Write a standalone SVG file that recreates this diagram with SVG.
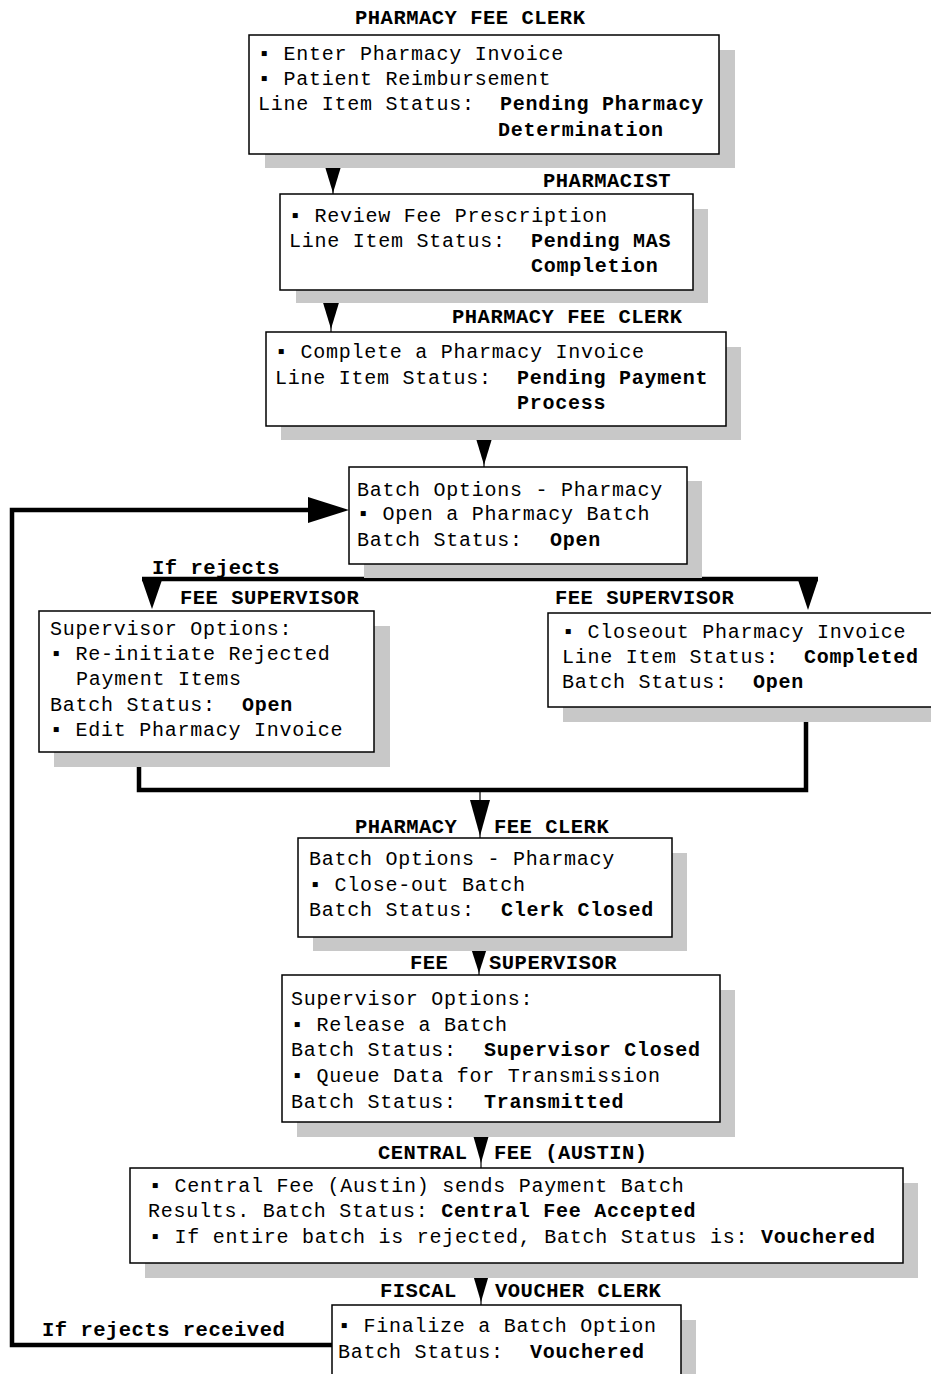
<svg xmlns="http://www.w3.org/2000/svg" width="931" height="1374" viewBox="0 0 931 1374">
<style>
.bg{fill:#ffffff}
.sh{fill:#c8c8c8}
.bx{fill:#ffffff;stroke:#000000;stroke-width:1.5}
.t{font-family:"Liberation Mono","DejaVu Sans Mono",monospace;font-size:20px;letter-spacing:0.75px;fill:#000000}
.b{font-weight:bold}
.ti{font-family:"Liberation Mono","DejaVu Sans Mono",monospace;font-size:20.5px;letter-spacing:0.5px;font-weight:bold;fill:#000000}
.thick{fill:none;stroke:#000000;stroke-width:4.5}
.thin{fill:none;stroke:#000000;stroke-width:1.2}
.ah{fill:#000000}
</style>
<rect class="bg" x="0" y="0" width="931" height="1374"/>

<g id="connectors">
  <line class="thin" x1="333" y1="154" x2="333" y2="194"/>
  <polygon class="ah" points="323,160 343,160 333,193"/>
  <line class="thin" x1="331" y1="290" x2="331" y2="332"/>
  <polygon class="ah" points="321,296 341,296 331,329"/>
  <line class="thin" x1="484" y1="426" x2="484" y2="467"/>
  <polygon class="ah" points="474,432 494,432 484,465"/>
  <line class="thick" x1="492" y1="564" x2="492" y2="579"/>
  <line class="thick" x1="142" y1="579" x2="818" y2="579"/>
  <polygon class="ah" points="142,580 162,580 152,609"/>
  <polygon class="ah" points="798,580 818,580 808,610"/>
  <path class="thick" d="M139 752 V790 H806 V707"/>
  <line class="thin" x1="480" y1="790" x2="480" y2="838"/>
  <polygon class="ah" points="470,800 490,800 480,836"/>
  <line class="thin" x1="479" y1="937" x2="479" y2="975"/>
  <polygon class="ah" points="469,942 489,942 479,973"/>
  <line class="thin" x1="481" y1="1122" x2="481" y2="1168"/>
  <polygon class="ah" points="471,1128 491,1128 481,1163"/>
  <line class="thin" x1="481" y1="1263" x2="481" y2="1305"/>
  <polygon class="ah" points="471,1268 491,1268 481,1302"/>
  <path class="thick" d="M332 1345 H12 V510 H310"/>
  <polygon class="ah" points="308,497 308,523 349,510"/>
</g>

<g id="labels">
  <text class="ti" x="152" y="574">If rejects</text>
  <text class="ti" x="42" y="1336">If rejects received</text>
</g>

<g id="node1">
  <text class="ti" x="355" y="24">PHARMACY FEE CLERK</text>
  <rect class="sh" x="265" y="50" width="470" height="118"/>
  <rect class="bx" x="249" y="35" width="470" height="119"/>
  <text class="t" x="258" y="60">▪ Enter Pharmacy Invoice</text>
  <text class="t" x="258" y="85">▪ Patient Reimbursement</text>
  <text class="t" x="258" y="110">Line Item Status:</text>
  <text class="t b" x="500" y="110">Pending Pharmacy</text>
  <text class="t b" x="498" y="136">Determination</text>
</g>

<g id="node2">
  <text class="ti" x="543" y="187">PHARMACIST</text>
  <rect class="sh" x="296" y="209" width="412" height="94"/>
  <rect class="bx" x="280" y="194" width="413" height="96"/>
  <text class="t" x="289" y="222">▪ Review Fee Prescription</text>
  <text class="t" x="289" y="247">Line Item Status:</text>
  <text class="t b" x="531" y="247">Pending MAS</text>
  <text class="t b" x="531" y="272">Completion</text>
</g>

<g id="node3">
  <text class="ti" x="452" y="323">PHARMACY FEE CLERK</text>
  <rect class="sh" x="281" y="347" width="460" height="93"/>
  <rect class="bx" x="266" y="332" width="460" height="94"/>
  <text class="t" x="275" y="358">▪ Complete a Pharmacy Invoice</text>
  <text class="t" x="275" y="384">Line Item Status:</text>
  <text class="t b" x="517" y="384">Pending Payment</text>
  <text class="t b" x="517" y="409">Process</text>
</g>

<g id="node4">
  <rect class="sh" x="364" y="481" width="338" height="97"/>
  <rect class="bx" x="349" y="467" width="338" height="97"/>
  <text class="t" x="357" y="496">Batch Options - Pharmacy</text>
  <text class="t" x="357" y="520">▪ Open a Pharmacy Batch</text>
  <text class="t" x="357" y="546">Batch Status:</text>
  <text class="t b" x="550" y="546">Open</text>
</g>

<g id="node5">
  <text class="ti" x="180" y="604">FEE SUPERVISOR</text>
  <rect class="sh" x="54" y="626" width="336" height="141"/>
  <rect class="bx" x="39" y="611" width="335" height="141"/>
  <text class="t" x="50" y="635">Supervisor Options:</text>
  <text class="t" x="50" y="660">▪ Re-initiate Rejected</text>
  <text class="t" x="76" y="685">Payment Items</text>
  <text class="t" x="50" y="711">Batch Status:</text>
  <text class="t b" x="242" y="711">Open</text>
  <text class="t" x="50" y="736">▪ Edit Pharmacy Invoice</text>
</g>

<g id="node6">
  <text class="ti" x="555" y="604">FEE SUPERVISOR</text>
  <rect class="sh" x="563" y="628" width="400" height="94"/>
  <rect class="bx" x="548" y="613" width="400" height="94"/>
  <text class="t" x="562" y="638">▪ Closeout Pharmacy Invoice</text>
  <text class="t" x="562" y="663">Line Item Status:</text>
  <text class="t b" x="804" y="663">Completed</text>
  <text class="t" x="562" y="688">Batch Status:</text>
  <text class="t b" x="753" y="688">Open</text>
</g>

<g id="node7">
  <text class="ti" x="355" y="833">PHARMACY</text>
  <text class="ti" x="494" y="833">FEE CLERK</text>
  <rect class="sh" x="313" y="853" width="374" height="98"/>
  <rect class="bx" x="298" y="838" width="374" height="99"/>
  <text class="t" x="309" y="865">Batch Options - Pharmacy</text>
  <text class="t" x="309" y="891">▪ Close-out Batch</text>
  <text class="t" x="309" y="916">Batch Status:</text>
  <text class="t b" x="501" y="916">Clerk Closed</text>
</g>

<g id="node8">
  <text class="ti" x="410" y="969">FEE</text>
  <text class="ti" x="489" y="969">SUPERVISOR</text>
  <rect class="sh" x="297" y="990" width="438" height="147"/>
  <rect class="bx" x="282" y="975" width="438" height="147"/>
  <text class="t" x="291" y="1005">Supervisor Options:</text>
  <text class="t" x="291" y="1031">▪ Release a Batch</text>
  <text class="t" x="291" y="1056">Batch Status:</text>
  <text class="t b" x="484" y="1056">Supervisor Closed</text>
  <text class="t" x="291" y="1082">▪ Queue Data for Transmission</text>
  <text class="t" x="291" y="1108">Batch Status:</text>
  <text class="t b" x="484" y="1108">Transmitted</text>
</g>

<g id="node9">
  <text class="ti" x="378" y="1159">CENTRAL</text>
  <text class="ti" x="494" y="1159">FEE (AUSTIN)</text>
  <rect class="sh" x="145" y="1183" width="773" height="95"/>
  <rect class="bx" x="130" y="1168" width="773" height="95"/>
  <text class="t" x="149" y="1192">▪ Central Fee (Austin) sends Payment Batch</text>
  <text class="t" x="148" y="1217">Results. Batch Status: <tspan class="b">Central Fee Accepted</tspan></text>
  <text class="t" x="149" y="1243">▪ If entire batch is rejected, Batch Status is: <tspan class="b">Vouchered</tspan></text>
</g>

<g id="node10">
  <text class="ti" x="380" y="1297">FISCAL</text>
  <text class="ti" x="495" y="1297">VOUCHER CLERK</text>
  <rect class="sh" x="347" y="1320" width="349" height="80"/>
  <rect class="bx" x="332" y="1305" width="349" height="90"/>
  <text class="t" x="338" y="1332">▪ Finalize a Batch Option</text>
  <text class="t" x="338" y="1358">Batch Status:</text>
  <text class="t b" x="530" y="1358">Vouchered</text>
</g>
</svg>
